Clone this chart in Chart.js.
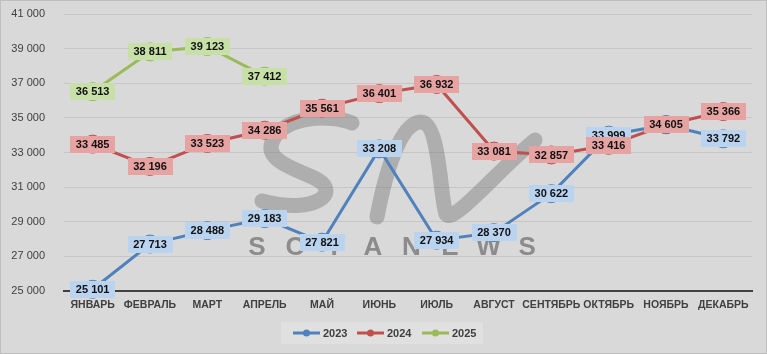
<!DOCTYPE html>
<html>
<head>
<meta charset="utf-8">
<script src="https://cdn.jsdelivr.net/npm/chart.js@4.4.1/dist/chart.umd.min.js"></script>
<style>
  html, body { margin: 0; padding: 0; background: #d9d9d9; }
  #wrap { width: 767px; height: 354px; position: relative; }
  canvas { display: block; }
</style>
</head>
<body>
<div id="wrap"><canvas id="c" width="767" height="354"></canvas></div>
<script>
const categories = ['ЯНВАРЬ','ФЕВРАЛЬ','МАРТ','АПРЕЛЬ','МАЙ','ИЮНЬ','ИЮЛЬ','АВГУСТ','СЕНТЯБРЬ','ОКТЯБРЬ','НОЯБРЬ','ДЕКАБРЬ'];
const seriesNames = ['2023','2024','2025'];
const values2023 = [25101, 27713, 28488, 29183, 27821, 33208, 27934, 28370, 30622, 33999, 34605, 33792];
const values2024 = [33485, 32196, 33523, 34286, 35561, 36401, 36932, 33081, 32857, 33416, 34605, 35366];
const values2025 = [36513, 38811, 39123, 37412];
const yMin = 25000, yMax = 41000, yStep = 2000;

const lineColors = ['#4f81bd', '#c0504d', '#9bbb59'];
const pointFills = ['#8eaedb', '#d98a88', '#b3cd84'];
const labelFills = ['#bad3ef', '#e6a3a2', '#c7e0a8'];

function fmt(v) {
  return String(v).replace(/\B(?=(\d{3})+(?!\d))/g, ' ');
}

const bgPlugin = {
  id: 'bg',
  beforeDraw(chart) {
    const ctx = chart.ctx;
    ctx.save();
    ctx.fillStyle = '#d9d9d9';
    ctx.fillRect(0, 0, chart.width, chart.height);
    ctx.strokeStyle = '#bfbfbf';
    ctx.lineWidth = 1;
    ctx.strokeRect(0.5, 0.5, chart.width - 1, chart.height - 1);
    ctx.restore();
  },
  beforeDatasetsDraw(chart) {
    const ctx = chart.ctx;
    ctx.save();
    // watermark swoosh
    ctx.strokeStyle = 'rgba(110,110,110,0.4)';
    ctx.lineWidth = 15;
    ctx.lineCap = 'round';
    ctx.lineJoin = 'round';
    ctx.beginPath();
    ctx.moveTo(352, 123);
    ctx.bezierCurveTo(330, 114, 285, 116, 273, 140);
    ctx.bezierCurveTo(262, 162, 300, 170, 318, 180);
    ctx.bezierCurveTo(340, 193, 315, 215, 262, 201);
    ctx.stroke();
    ctx.beginPath();
    ctx.moveTo(377, 217);
    ctx.bezierCurveTo(386, 170, 400, 124, 420, 122);
    ctx.bezierCurveTo(440, 120, 440, 198, 446, 214);
    ctx.bezierCurveTo(452, 226, 500, 168, 535, 140);
    ctx.stroke();
    // watermark text
    ctx.fillStyle = 'rgba(110,110,110,0.72)';
    ctx.font = 'bold 26px "Liberation Sans"';
    ctx.textBaseline = 'middle';
    ctx.textAlign = 'center';
    const letters = 'SOTANEWS'.split('');
    const x0 = 257, dx = 38.6;
    letters.forEach((l, i) => ctx.fillText(l, x0 + i * dx, 248));
    ctx.restore();
  }
};

const labelPlugin = {
  id: 'boxLabels',
  afterDatasetsDraw(chart) {
    const ctx = chart.ctx;
    ctx.save();
    ctx.font = 'bold 11px "Liberation Sans"';
    ctx.textAlign = 'center';
    ctx.textBaseline = 'middle';
    chart.data.datasets.forEach((ds, di) => {
      const meta = chart.getDatasetMeta(di);
      meta.data.forEach((pt, i) => {
        const v = ds.data[i];
        if (v == null) return;
        const txt = fmt(v);
        const w = ctx.measureText(txt).width + 11;
        const h = 17;
        ctx.fillStyle = labelFills[di];
        ctx.fillRect(Math.round(pt.x - w / 2), Math.round(pt.y - h / 2), Math.round(w), h);
        ctx.fillStyle = '#111';
        ctx.fillText(txt, pt.x, pt.y + 0.5);
      });
    });
    ctx.restore();
  }
};

const legendPlugin = {
  id: 'customLegend',
  afterDraw(chart) {
    const ctx = chart.ctx;
    ctx.save();
    ctx.fillStyle = '#e0e0e0';
    ctx.fillRect(281, 322, 202, 22);
    ctx.font = 'bold 11px "Liberation Sans"';
    ctx.textBaseline = 'middle';
    ctx.textAlign = 'left';
    const starts = [293, 357, 422];
    seriesNames.forEach((n, i) => {
      const x = starts[i], y = 333;
      ctx.strokeStyle = lineColors[i];
      ctx.lineWidth = 3;
      ctx.beginPath(); ctx.moveTo(x, y); ctx.lineTo(x + 27, y); ctx.stroke();
      ctx.fillStyle = lineColors[i];
      ctx.beginPath(); ctx.arc(x + 13.5, y, 3.5, 0, Math.PI * 2); ctx.fill();
      ctx.fillStyle = '#404040';
      ctx.fillText(n, x + 30, y + 0.5);
    });
    ctx.restore();
  }
};

const datasets = [values2023, values2024, values2025].map((vals, i) => ({
  label: seriesNames[i],
  data: vals,
  borderColor: lineColors[i],
  backgroundColor: lineColors[i],
  borderWidth: 3,
  pointRadius: 9,
  pointHoverRadius: 9,
  pointBackgroundColor: pointFills[i],
  pointBorderColor: lineColors[i],
  pointBorderWidth: 1,
  tension: 0,
  fill: false,
  clip: false
}));

new Chart(document.getElementById('c'), {
  type: 'line',
  data: { labels: categories, datasets },
  options: {
    responsive: false,
    animation: false,
    events: [],
    layout: { autoPadding: false, padding: { left: 0, right: 15, top: 14, bottom: 0 } },
    plugins: { legend: { display: false }, tooltip: { enabled: false } },
    scales: {
      x: {
        offset: true,
        grid: { display: false, drawTicks: false },
        border: { display: true, color: '#404040', width: 2 },
        ticks: {
          color: '#404040',
          font: { family: 'Liberation Sans', size: 10.5, weight: 'bold' },
          maxRotation: 0, autoSkip: false, padding: 8
        },
        afterFit(scale) { scale.height = 63; }
      },
      y: {
        min: yMin, max: yMax,
        grid: {
          color: (c) => c.tick && c.tick.value === yMin ? 'rgba(0,0,0,0)' : '#c6c6c6',
          lineWidth: 1,
          drawTicks: false
        },
        border: { display: false },
        ticks: {
          stepSize: yStep,
          color: '#404040',
          font: { family: 'Liberation Sans', size: 11 },
          padding: 19,
          callback: (v) => fmt(v)
        },
        afterFit(scale) { scale.width = 64; scale.paddingTop = 0; scale.paddingBottom = 0; }
      }
    }
  },
  plugins: [bgPlugin, labelPlugin, legendPlugin]
});
</script>
</body>
</html>
